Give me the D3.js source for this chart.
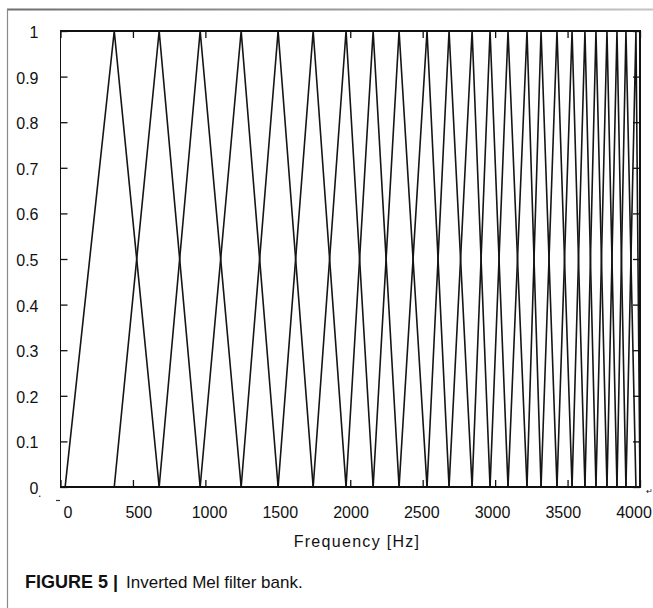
<!DOCTYPE html>
<html>
<head>
<meta charset="utf-8">
<script src="https://cdn.jsdelivr.net/npm/d3@7"></script>
<style>
  html, body { margin: 0; padding: 0; background: #fff; }
  svg { display: block; }
  text { font-family: "Liberation Sans", Arial, sans-serif; fill: #111; }
</style>
</head>
<body>
<svg id="chart" width="653" height="608"></svg>
<script>
// Band edge frequencies (Hz): each triangular filter rises from one edge,
// peaks at the next and falls back to zero at the one after that.
const bandEdges = [32, 371, 681, 964, 1247, 1502, 1744, 1971, 2158, 2337,
                   2530, 2682, 2841, 2965, 3089, 3220, 3317, 3427, 3531, 3620,
                   3696, 3772, 3841, 3903, 3972, 4000];
const xTicks = [0, 500, 1000, 1500, 2000, 2500, 3000, 3500, 4000];
const xTickLabels = ["0", "500", "1000", "1500", "2000", "2500", "3000", "3500", "4000"];
const yTicks = [0, 0.1, 0.2, 0.3, 0.4, 0.5, 0.6, 0.7, 0.8, 0.9, 1];
const yTickLabels = ["0", "0.1", "0.2", "0.3", "0.4", "0.5", "0.6", "0.7", "0.8", "0.9", "1"];
const xLabel = "Frequency [Hz]";
const captionBold = "FIGURE 5 |";
const captionText = "Inverted Mel filter bank.";

const svg = d3.select("#chart");
const box = { left: 60.5, right: 640, top: 31, bottom: 487 };

const x = d3.scaleLinear().domain([0, 4000]).range([box.left, box.right]);
const y = d3.scaleLinear().domain([0, 1]).range([box.bottom, box.top]);
// tick labels sit on a slightly narrower spread than the tick marks
const xl = d3.scaleLinear().domain([0, 4000]).range([68, 634]);

// page frame: shaded top rule and left rule
const defs = svg.append("defs");
const grad = defs.append("linearGradient").attr("id", "topRule")
  .attr("x1", "0%").attr("x2", "100%");
grad.append("stop").attr("offset", "0%").attr("stop-color", "#6e6e6e");
grad.append("stop").attr("offset", "100%").attr("stop-color", "#c4c4c4");
svg.append("rect").attr("x", 7).attr("y", 8.5).attr("width", 646).attr("height", 2)
  .attr("fill", "url(#topRule)");
svg.append("line").attr("x1", 7.5).attr("x2", 7.5).attr("y1", 9).attr("y2", 608)
  .attr("stroke", "#8a8a8a").attr("stroke-width", 1.2);

// filters
const filters = d3.range(1, bandEdges.length - 1).map(i => [
  [bandEdges[i - 1], 0], [bandEdges[i], 1], [bandEdges[i + 1], 0]
]);
const line = d3.line().x(d => x(d[0])).y(d => y(d[1]));
svg.append("g").selectAll("path").data(filters).join("path")
  .attr("d", line)
  .attr("fill", "none")
  .attr("stroke", "#151515")
  .attr("stroke-width", 1.6);

// axes box
svg.append("rect")
  .attr("x", box.left).attr("y", box.top)
  .attr("width", box.right - box.left).attr("height", box.bottom - box.top)
  .attr("fill", "none").attr("stroke", "#111").attr("stroke-width", 1.5)
  .attr("shape-rendering", "crispEdges");

// inward ticks on all four sides
const tickLen = 7;
const xAxisBottom = d3.axisTop(x).tickValues(xTicks).tickSize(tickLen).tickFormat("");
const xAxisTop = d3.axisBottom(x).tickValues(xTicks).tickSize(tickLen).tickFormat("");
const yAxisLeft = d3.axisRight(y).tickValues(yTicks).tickSize(tickLen).tickFormat("");
const yAxisRight = d3.axisLeft(y).tickValues(yTicks).tickSize(tickLen).tickFormat("");
[
  [xAxisBottom, `translate(0,${box.bottom})`],
  [xAxisTop, `translate(0,${box.top})`],
  [yAxisLeft, `translate(${box.left},0)`],
  [yAxisRight, `translate(${box.right},0)`]
].forEach(([ax, tr]) => {
  const g = svg.append("g").attr("transform", tr).call(ax);
  g.select(".domain").remove();
  g.selectAll(".tick line").attr("stroke", "#111").attr("stroke-width", 1.3);
});

// x tick labels
svg.append("g").selectAll("text").data(xTicks).join("text")
  .attr("x", d => xl(d))
  .attr("y", 517.5)
  .attr("text-anchor", "middle")
  .attr("font-size", 16)
  .text((d, i) => xTickLabels[i]);
svg.append("line").attr("x1", 56).attr("x2", 60).attr("y1", 500.5).attr("y2", 500.5)
  .attr("stroke", "#333").attr("stroke-width", 1.2);

// y tick labels
svg.append("g").selectAll("text").data(yTicks).join("text")
  .attr("x", 38.5)
  .attr("y", d => y(d) + 7)
  .attr("text-anchor", "end")
  .attr("font-size", 16)
  .text((d, i) => yTickLabels[i]);
svg.append("text").attr("x", 38).attr("y", y(0) + 10).attr("font-size", 12).text(".");

// x axis title
svg.append("text")
  .attr("x", 357).attr("y", 547)
  .attr("text-anchor", "middle")
  .attr("font-size", 16)
  .attr("letter-spacing", 1.3)
  .text(xLabel);

// caption
svg.append("text").attr("x", 25).attr("y", 588).attr("font-size", 18)
  .attr("font-weight", "bold").text(captionBold);
svg.append("text").attr("x", 126).attr("y", 588).attr("font-size", 17)
  .attr("fill", "#222").text(captionText);

svg.append("text").attr("x", 646).attr("y", 494).attr("font-size", 8)
  .attr("fill", "#999").text("↵");
</script>
</body>
</html>
